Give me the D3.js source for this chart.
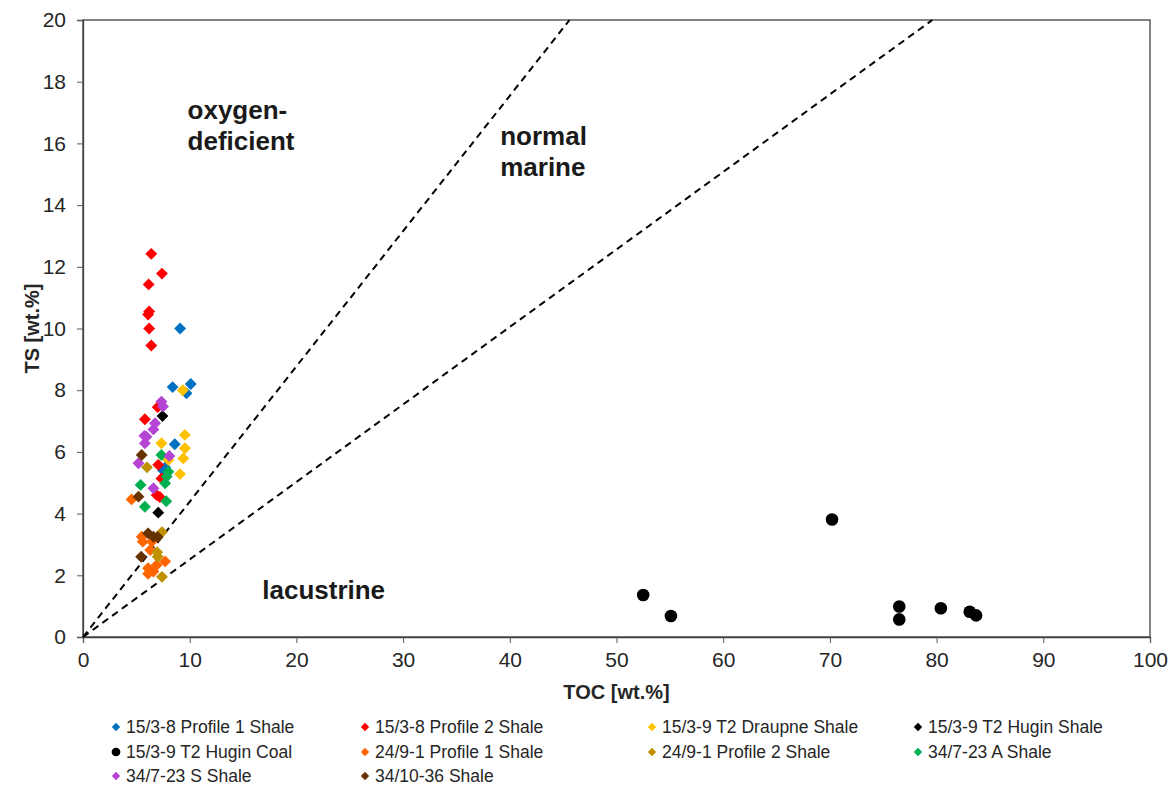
<!DOCTYPE html>
<html>
<head>
<meta charset="utf-8">
<script src="https://cdn.jsdelivr.net/npm/d3@7"></script>
<style>
  html, body { margin: 0; padding: 0; background: #fff; }
  svg { display: block; font-family: "Liberation Sans", Arial, sans-serif; }
</style>
</head>
<body>
<svg id="chart" width="1174" height="785"></svg>
<script>
// TOC (x) vs TS (y), wt.%
const xTicks = [0, 10, 20, 30, 40, 50, 60, 70, 80, 90, 100];
const yTicks = [0, 2, 4, 6, 8, 10, 12, 14, 16, 18, 20];

const seriesNames = [
  "15/3-8 Profile 1 Shale", "15/3-8 Profile 2 Shale", "15/3-9 T2 Draupne Shale", "15/3-9 T2 Hugin Shale",
  "15/3-9 T2 Hugin Coal", "24/9-1 Profile 1 Shale", "24/9-1 Profile 2 Shale", "34/7-23 A Shale",
  "34/7-23 S Shale", "34/10-36 Shale"
];
const seriesColors = ["#0070C0", "#FF0000", "#FFC000", "#000000", "#000000", "#FF6600", "#BF9000", "#00B050", "#B444D4", "#663300"];
const seriesShapes = ["diamond", "diamond", "diamond", "diamond", "circle", "diamond", "diamond", "diamond", "diamond", "diamond"];

const profile1_15_3_8 = [[9.1, 10.0], [8.4, 8.1], [10.1, 8.2], [9.7, 7.9], [8.6, 6.25], [7.7, 5.5], [7.5, 5.4]];
const profile2_15_3_8 = [[6.4, 12.42], [7.4, 11.78], [6.15, 11.43], [6.2, 10.55], [6.1, 10.45], [6.2, 10.0], [6.4, 9.45],
  [5.8, 7.06], [7.0, 7.45], [7.05, 5.58], [7.35, 5.14], [6.9, 4.6], [7.2, 4.54]];
const draupne_15_3_9 = [[9.35, 8.0], [9.55, 6.55], [7.35, 6.28], [9.55, 6.12], [9.4, 5.79], [8.0, 5.74], [9.1, 5.28]];
const huginShale_15_3_9 = [[7.45, 7.16], [7.05, 4.03]];
const huginCoal_15_3_9 = [[52.5, 1.36], [55.1, 0.68], [70.2, 3.81], [76.5, 0.99], [76.5, 0.57], [80.4, 0.93], [83.1, 0.82], [83.7, 0.70]];
const profile1_24_9_1 = [[4.55, 4.46], [5.5, 3.25], [5.6, 3.09], [6.45, 3.09], [6.3, 2.82], [7.7, 2.45], [6.9, 2.33],
  [6.1, 2.23], [6.6, 2.12], [6.1, 2.05]];
const profile2_24_9_1 = [[6.0, 5.5], [7.4, 3.4], [6.95, 2.75], [7.0, 2.6], [7.4, 1.95]];
const shaleA_34_7_23 = [[7.35, 5.9], [8.0, 5.36], [7.85, 5.2], [5.4, 4.93], [7.7, 4.98], [5.8, 4.22], [7.8, 4.4]];
const shaleS_34_7_23 = [[7.35, 7.63], [7.5, 7.47], [6.75, 6.93], [6.6, 6.73], [5.95, 6.49], [5.75, 6.52], [5.8, 6.28],
  [8.1, 5.87], [5.2, 5.63], [6.6, 4.82]];
const shale_34_10_36 = [[5.5, 5.9], [5.2, 4.55], [6.1, 3.36], [6.6, 3.25], [7.0, 3.24], [5.45, 2.6]];

const seriesData = [profile1_15_3_8, profile2_15_3_8, draupne_15_3_9, huginShale_15_3_9, huginCoal_15_3_9,
  profile1_24_9_1, profile2_24_9_1, shaleA_34_7_23, shaleS_34_7_23, shale_34_10_36];

// Reference lines through the origin: end points at the top of the plot (TOC, TS)
const oxicLineEnd = [45.6, 20];
const lacustrineLineEnd = [79.6, 20];

const fieldLabels = [
  { lines: ["oxygen-", "deficient"], x: 9.8, y: 16.8 },
  { lines: ["normal", "marine"], x: 39.1, y: 15.95 },
  { lines: ["lacustrine"], x: 16.8, y: 1.23 }
];

const svg = d3.select("#chart");
const plotLeft = 83, plotRight = 1150, plotTop = 20, plotBottom = 637;

const x = d3.scaleLinear().domain([0, 100]).range([plotLeft, plotRight]);
const y = d3.scaleLinear().domain([0, 20]).range([plotBottom, plotTop]);

const axisColor = "#595959";
const textColor = "#262626";

// plot frame
svg.append("rect")
  .attr("x", plotLeft).attr("y", plotTop)
  .attr("width", plotRight - plotLeft).attr("height", plotBottom - plotTop)
  .attr("fill", "none").attr("stroke", "#404040").attr("stroke-width", 1.3);

// axes
const xAxis = svg.append("g")
  .attr("transform", `translate(0,${plotBottom})`)
  .call(d3.axisBottom(x).tickValues(xTicks).tickSize(6).tickPadding(7));
const yAxis = svg.append("g")
  .attr("transform", `translate(${plotLeft},0)`)
  .call(d3.axisLeft(y).tickValues(yTicks).tickSize(6).tickPadding(11));

[xAxis, yAxis].forEach(g => {
  g.select(".domain").attr("stroke", "#404040").attr("stroke-width", 1.3);
  g.selectAll(".tick line").attr("stroke", axisColor).attr("stroke-width", 1);
  g.selectAll(".tick text")
    .attr("fill", textColor)
    .style("font-size", "21px")
    .style("font-family", "'Liberation Sans', Arial, sans-serif");
});
xAxis.selectAll(".tick text").attr("dy", "0.8em");

// axis titles
svg.append("text")
  .attr("x", (plotLeft + plotRight) / 2).attr("y", 699)
  .attr("text-anchor", "middle")
  .attr("fill", textColor)
  .style("font-size", "20px").style("font-weight", "bold")
  .text("TOC [wt.%]");
svg.append("text")
  .attr("transform", `translate(39,${(plotTop + plotBottom) / 2}) rotate(-90)`)
  .attr("text-anchor", "middle")
  .attr("fill", textColor)
  .style("font-size", "20px").style("font-weight", "bold")
  .text("TS [wt.%]");

// dashed reference lines
const plotG = svg.append("g");
[oxicLineEnd, lacustrineLineEnd].forEach(end => {
  plotG.append("line")
    .attr("x1", x(0)).attr("y1", y(0))
    .attr("x2", x(end[0])).attr("y2", y(end[1]))
    .attr("stroke", "#000").attr("stroke-width", 2)
    .attr("stroke-dasharray", "7,5");
});

// field labels
fieldLabels.forEach(f => {
  const t = svg.append("text")
    .attr("fill", "#1a1a1a")
    .style("font-size", "26px").style("font-weight", "bold");
  f.lines.forEach((ln, i) => {
    t.append("tspan").attr("x", x(f.x)).attr("y", y(f.y) + i * 31).text(ln);
  });
});

// markers
const diamond = d3.symbol().type(d3.symbolDiamond2).size(90);
const circle = d3.symbol().type(d3.symbolCircle).size(125);

seriesData.forEach((pts, i) => {
  const gen = seriesShapes[i] === "circle" ? circle : diamond;
  plotG.append("g").selectAll("path")
    .data(pts)
    .join("path")
    .attr("d", gen)
    .attr("transform", d => `translate(${x(d[0])},${y(d[1])})`)
    .attr("fill", seriesColors[i]);
});

// legend: 4 columns
const legendCols = [116, 365, 652, 918];
const legendRows = [727, 752, 776];
const legendDiamond = d3.symbol().type(d3.symbolDiamond2).size(45);
const legendCircle = d3.symbol().type(d3.symbolCircle).size(60);
const legend = svg.append("g");
seriesNames.forEach((name, i) => {
  const cx = legendCols[i % 4], cy = legendRows[Math.floor(i / 4)];
  const g = legend.append("g").attr("transform", `translate(${cx},${cy})`);
  g.append("path")
    .attr("d", seriesShapes[i] === "circle" ? legendCircle : legendDiamond)
    .attr("fill", seriesColors[i]);
  g.append("text")
    .attr("x", 10).attr("y", 0).attr("dy", "0.35em")
    .attr("fill", textColor)
    .style("font-size", "17.5px")
    .text(name);
});
</script>
</body>
</html>
